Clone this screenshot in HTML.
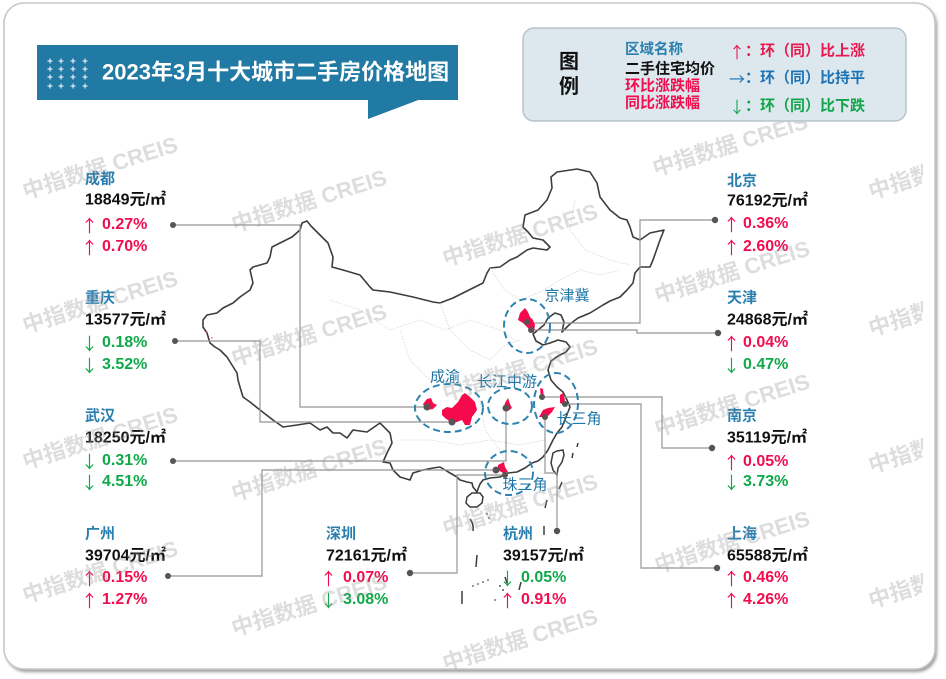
<!DOCTYPE html>
<html><head><meta charset="utf-8"><style>
html,body{margin:0;padding:0;background:#fff;}
body{width:946px;height:679px;overflow:hidden;}
svg{display:block;}
text{font-family:"Liberation Sans","Noto Sans CJK SC",sans-serif;}
.nm{font-size:15px;font-weight:bold;fill:#2a7fb0;}
.pr{font-size:16px;font-weight:bold;fill:#111;}
.up{font-size:16px;font-weight:bold;fill:#f20d4f;}
.dn{font-size:16px;font-weight:bold;fill:#10a94a;}
.ar{font-family:"Noto Sans CJK SC",sans-serif;font-weight:normal;font-size:17px;}
.rg{font-size:15px;fill:#1f77a8;}
.wm{font-size:22px;font-weight:bold;fill:#999;opacity:0.32;}
</style></head><body>
<svg width="946" height="679" viewBox="0 0 946 679" xmlns="http://www.w3.org/2000/svg">
<defs>
<filter id="bl" x="-5%" y="-5%" width="110%" height="110%"><feGaussianBlur stdDeviation="1.5"/></filter>
<clipPath id="cl"><rect x="6" y="5" width="917" height="664"/></clipPath>
</defs>
<!-- frame -->
<rect x="6" y="5" width="931" height="667" rx="20" fill="#9a9a9a" filter="url(#bl)"/>
<rect x="4" y="3" width="931" height="666" rx="20" fill="#fff" stroke="#c8c8c8" stroke-width="1.6"/>

<!-- map outline -->
<path fill="#fff" stroke="#3d3d3d" stroke-width="1.6" stroke-linejoin="round" d="M203,327 L203,320 L207,315 L217,313 L223,308 L233,303 L240,297 L250,290 L253,283 L250,270 L253,267 L267,263 L270,257 L272,247 L280,243 L292,237 L300,230 L302,223 L307,221 L311,226 L318,233 L323,238 L328,243 L333,257 L332,267 L343,270 L360,275 L370,287 L373,290 L390,292 L413,297 L433,302 L440,303 L453,298 L473,288 L483,283 L487,273 L490,268 L500,267 L510,260 L517,257 L527,250 L533,248 L547,250 L550,247 L543,240 L533,238 L528,232 L523,227 L525,215 L538,210 L547,200 L552,188 L551,177 L557,172 L577,169 L590,172 L597,183 L600,197 L610,210 L620,218 L627,220 L630,227 L633,237 L640,240 L650,233 L664,230 L660,240 L653,260 L650,267 L640,267 L635,273 L633,283 L627,290 L620,297 L610,301 L603,305 L590,313 L578,318 L570,324 L562,332 L564,322 L561,315 L555,313 L548,318 L544,325 L538,330 L533,334 L536,341 L543,345 L550,343 L558,340 L566,342 L570,347 L566,352 L558,356 L551,361 L548,370 L551,380 L557,387 L563,392 L567,400 L570,407 L566,417 L562,427 L557,433 L553,440 L548,450 L543,457 L538,461 L532,463 L525,468 L517,472 L508,473 L500,477 L490,478 L483,480 L480,484 L478,489 L477,492 L473,487 L472,483 L467,482 L460,480 L457,477 L450,473 L445,470 L440,467 L433,468 L423,470 L413,473 L410,480 L400,477 L393,470 L390,463 L383,462 L387,453 L392,443 L390,433 L380,423 L367,432 L353,430 L347,438 L340,433 L333,433 L327,427 L320,430 L310,423 L297,425 L283,427 L273,420 L260,410 L250,402 L243,397 L240,387 L238,380 L237,373 L232,365 L227,357 L220,350 L215,347 L210,343 L207,333 Z"/>
<!-- faint province lines -->
<g fill="none" stroke="#d4d4d4" stroke-width="0.8" stroke-dasharray="1.5 1.5">
<path d="M330,300 L360,310 L390,330 L420,320 L445,330 L470,320 L500,330 L515,340"/>
<path d="M400,330 L410,360 L430,380 L470,385 L500,380 L530,370 L545,360"/>
<path d="M440,303 L450,330 L470,350 L490,360 L505,345 L520,340"/>
<path d="M490,268 L505,290 L520,300 L540,292 L560,280 L580,270 L600,275 L620,270"/>
<path d="M575,200 L570,230 L585,250 L610,260 L630,265"/>
<path d="M400,440 L430,440 L460,445 L490,440 L520,445 L545,440"/>
<path d="M480,400 L485,430 L500,450 L505,460"/>
</g>
<!-- Hainan, Taiwan -->
<path fill="#fff" stroke="#3d3d3d" stroke-width="1.5" d="M467,497 L472,493 L480,493 L483,497 L482,503 L477,507 L470,507 L466,503 Z"/>
<path fill="#fff" stroke="#3d3d3d" stroke-width="1.5" d="M553,453 L557,451 L563,450 L564,455 L562,462 L558,468 L557,475 L553,470 L551,463 Z"/>
<g stroke="#3d3d3d" stroke-width="1.5" fill="none">
<path d="M573,453 L572,458"/><path d="M578,443 L577,447"/>
<path d="M562,482 L559,489"/><path d="M547,500 L545,508"/>
<path d="M544,526 L544,535"/><path d="M470,519 Q474,524 473,531"/>
<path d="M477,555 L476,567"/><path d="M462,591 L462,604"/>
<path d="M521,582 L519,590"/><path d="M505,577 L507,583"/>
</g>
<g fill="#555">
<circle cx="473" cy="586" r="0.9"/><circle cx="478" cy="584" r="0.9"/><circle cx="483" cy="582" r="0.9"/><circle cx="488" cy="580" r="0.9"/>
<circle cx="487" cy="514" r="0.9"/><circle cx="489" cy="518" r="0.9"/><circle cx="495" cy="600" r="0.9"/>
<circle cx="500" cy="586" r="1"/><circle cx="503" cy="590" r="1"/>
</g>
<g fill="#ff6b6b"><circle cx="207" cy="332" r="0.9"/><circle cx="212" cy="338" r="0.9"/></g>

<!-- leader lines -->
<g fill="none" stroke="#959595" stroke-width="1.2">
<polyline points="173,225 300,225 300,407 427,407"/>
<polyline points="175,341 260,341 260,422 452,422"/>
<polyline points="173,461 506,461 506,408"/>
<polyline points="168,576 262,576 262,470 496,470"/>
<polyline points="410,573 457,573 457,475 505,475"/>
<polyline points="557,531 557,473 545,473 545,417"/>
<polyline points="715,220 640,220 640,323 527,323"/>
<polyline points="718,333 637,333 637,330 531,330"/>
<polyline points="712,448 662,448 662,397 542,397"/>
<polyline points="717,568 641,568 641,404 565,404"/>
</g>

<!-- red regions -->
<g fill="#f50a4c">
<path d="M520,313 L525,308 L528,312 L530,317 L533,320 L535,325 L534,332 L532,333 L528,328 L523,323 L518,320 Z"/>
<path d="M423,404 L427,399 L431,398 L433,403 L437,405 L433,409 L426,410 Z"/>
<path d="M442,410 L447,407 L452,408 L458,402 L462,395 L465,393 L470,397 L475,402 L477,410 L472,417 L470,425 L465,425 L462,420 L457,422 L452,423 L445,418 L442,415 Z"/>
<path d="M503,410 L505,403 L508,398 L510,404 L512,408 L508,411 Z"/>
<path d="M539,417 L543,410 L548,408 L555,407 L552,412 L547,417 Z"/>
<path d="M540,388 L543,389 L544,398 L541,398 Z"/>
<path d="M560,395 L563,393 L565,400 L564,405 L560,403 Z"/>
<path d="M498,465 L504,462 L505,467 L508,472 L503,473 L498,470 Z"/>
</g>

<!-- circles -->
<g fill="none" stroke="#2e83b0" stroke-width="2" stroke-dasharray="7 4">
<ellipse cx="527" cy="326" rx="23" ry="27"/>
<ellipse cx="449" cy="408" rx="34" ry="24"/>
<ellipse cx="510" cy="406" rx="22" ry="18"/>
<ellipse cx="556" cy="403" rx="22" ry="30"/>
<ellipse cx="509" cy="473" rx="24" ry="22"/>
</g>

<!-- dots -->
<g fill="#555">
<circle cx="173" cy="225" r="3"/><circle cx="175" cy="341" r="3"/><circle cx="173" cy="461" r="3"/>
<circle cx="168" cy="576" r="3"/><circle cx="410" cy="573" r="3.2"/><circle cx="557" cy="531" r="3.2"/>
<circle cx="715" cy="220" r="3.2"/><circle cx="718" cy="333" r="3.2"/><circle cx="712" cy="448" r="3.2"/><circle cx="717" cy="568" r="3.2"/>
<circle cx="427" cy="407" r="3.5"/><circle cx="452" cy="422" r="3.5"/><circle cx="506" cy="408" r="3.5"/>
<circle cx="527" cy="322" r="3"/><circle cx="531" cy="330" r="3"/>
<circle cx="542" cy="397" r="3"/><circle cx="565" cy="404" r="3"/><circle cx="545" cy="417" r="3"/>
<circle cx="496" cy="470" r="3.5"/><circle cx="505" cy="475" r="3"/>
</g>

<!-- region labels -->
<g text-anchor="middle" dominant-baseline="central">
<text class="rg" x="567" y="296">京津冀</text>
<text class="rg" x="445" y="377">成渝</text>
<text class="rg" x="507" y="382">长江中游</text>
<text class="rg" x="579" y="419">长三角</text>
<text class="rg" x="525" y="485">珠三角</text>
</g>

<!-- city blocks -->
<g dominant-baseline="central">
<text class="nm" x="85" y="179">成都</text>
<text class="pr" x="85" y="200">18849元/㎡</text>
<text class="up" x="81" y="224"><tspan class="ar">↑</tspan><tspan x="102">0.27%</tspan></text>
<text class="up" x="81" y="246"><tspan class="ar">↑</tspan><tspan x="102">0.70%</tspan></text>

<text class="nm" x="85" y="298">重庆</text>
<text class="pr" x="85" y="320">13577元/㎡</text>
<text class="dn" x="81" y="342"><tspan class="ar">↓</tspan><tspan x="102">0.18%</tspan></text>
<text class="dn" x="81" y="364"><tspan class="ar">↓</tspan><tspan x="102">3.52%</tspan></text>

<text class="nm" x="85" y="416">武汉</text>
<text class="pr" x="85" y="438">18250元/㎡</text>
<text class="dn" x="81" y="460"><tspan class="ar">↓</tspan><tspan x="102">0.31%</tspan></text>
<text class="dn" x="81" y="481"><tspan class="ar">↓</tspan><tspan x="102">4.51%</tspan></text>

<text class="nm" x="85" y="534">广州</text>
<text class="pr" x="85" y="556">39704元/㎡</text>
<text class="up" x="81" y="577"><tspan class="ar">↑</tspan><tspan x="102">0.15%</tspan></text>
<text class="up" x="81" y="599"><tspan class="ar">↑</tspan><tspan x="102">1.27%</tspan></text>

<text class="nm" x="326" y="534">深圳</text>
<text class="pr" x="326" y="556">72161元/㎡</text>
<text class="up" x="320" y="577"><tspan class="ar">↑</tspan><tspan x="343">0.07%</tspan></text>
<text class="dn" x="320" y="599"><tspan class="ar">↓</tspan><tspan x="343">3.08%</tspan></text>

<text class="nm" x="503" y="534">杭州</text>
<text class="pr" x="503" y="556">39157元/㎡</text>
<text class="dn" x="499" y="577"><tspan class="ar">↓</tspan><tspan x="521">0.05%</tspan></text>
<text class="up" x="499" y="599"><tspan class="ar">↑</tspan><tspan x="521">0.91%</tspan></text>

<text class="nm" x="727" y="181">北京</text>
<text class="pr" x="727" y="201">76192元/㎡</text>
<text class="up" x="723" y="223"><tspan class="ar">↑</tspan><tspan x="743">0.36%</tspan></text>
<text class="up" x="723" y="246"><tspan class="ar">↑</tspan><tspan x="743">2.60%</tspan></text>

<text class="nm" x="727" y="298">天津</text>
<text class="pr" x="727" y="320">24868元/㎡</text>
<text class="up" x="723" y="342"><tspan class="ar">↑</tspan><tspan x="743">0.04%</tspan></text>
<text class="dn" x="723" y="364"><tspan class="ar">↓</tspan><tspan x="743">0.47%</tspan></text>

<text class="nm" x="727" y="416">南京</text>
<text class="pr" x="727" y="438">35119元/㎡</text>
<text class="up" x="723" y="461"><tspan class="ar">↑</tspan><tspan x="743">0.05%</tspan></text>
<text class="dn" x="723" y="481"><tspan class="ar">↓</tspan><tspan x="743">3.73%</tspan></text>

<text class="nm" x="727" y="534">上海</text>
<text class="pr" x="727" y="556">65588元/㎡</text>
<text class="up" x="723" y="577"><tspan class="ar">↑</tspan><tspan x="743">0.46%</tspan></text>
<text class="up" x="723" y="599"><tspan class="ar">↑</tspan><tspan x="743">4.26%</tspan></text>
</g>

<!-- watermarks -->
<g clip-path="url(#cl)" text-anchor="middle" dominant-baseline="central">
<text class="wm" transform="translate(100,168) rotate(-17.5)">中指数据 CREIS</text>
<text class="wm" transform="translate(100,302) rotate(-17.5)">中指数据 CREIS</text>
<text class="wm" transform="translate(100,438) rotate(-17.5)">中指数据 CREIS</text>
<text class="wm" transform="translate(100,572) rotate(-17.5)">中指数据 CREIS</text>
<text class="wm" transform="translate(309,201) rotate(-17.5)">中指数据 CREIS</text>
<text class="wm" transform="translate(309,335) rotate(-17.5)">中指数据 CREIS</text>
<text class="wm" transform="translate(309,470) rotate(-17.5)">中指数据 CREIS</text>
<text class="wm" transform="translate(309,605) rotate(-17.5)">中指数据 CREIS</text>
<text class="wm" transform="translate(520,235) rotate(-17.5)">中指数据 CREIS</text>
<text class="wm" transform="translate(520,370) rotate(-17.5)">中指数据 CREIS</text>
<text class="wm" transform="translate(520,505) rotate(-17.5)">中指数据 CREIS</text>
<text class="wm" transform="translate(520,640) rotate(-17.5)">中指数据 CREIS</text>
<text class="wm" transform="translate(730,145) rotate(-17.5)">中指数据 CREIS</text>
<text class="wm" transform="translate(732,272) rotate(-17.5)">中指数据 CREIS</text>
<text class="wm" transform="translate(732,405) rotate(-17.5)">中指数据 CREIS</text>
<text class="wm" transform="translate(732,542) rotate(-17.5)">中指数据 CREIS</text>
<text class="wm" transform="translate(946,168) rotate(-17.5)">中指数据 CREIS</text>
<text class="wm" transform="translate(946,305) rotate(-17.5)">中指数据 CREIS</text>
<text class="wm" transform="translate(946,442) rotate(-17.5)">中指数据 CREIS</text>
<text class="wm" transform="translate(946,577) rotate(-17.5)">中指数据 CREIS</text>
</g>

<!-- title banner -->
<rect x="37" y="45" width="421" height="55" fill="#217aa4"/>
<polygon points="368,99 368,119 421,99" fill="#217aa4"/>
<g stroke="#fff" stroke-width="1">
<path d="M47.5,61 h5 M50,58.5 v5 M58.5,61 h5 M61,58.5 v5 M70.5,61 h5 M73,58.5 v5 M82.5,61 h5 M85,58.5 v5"/>
<path d="M47.5,69 h5 M50,66.5 v5 M58.5,69 h5 M61,66.5 v5 M70.5,69 h5 M73,66.5 v5 M82.5,69 h5 M85,66.5 v5"/>
<path d="M47.5,77 h5 M50,74.5 v5 M58.5,77 h5 M61,74.5 v5 M70.5,77 h5 M73,74.5 v5 M82.5,77 h5 M85,74.5 v5"/>
<path d="M47.5,86 h5 M50,83.5 v5 M58.5,86 h5 M61,83.5 v5 M70.5,86 h5 M73,83.5 v5 M82.5,86 h5 M85,83.5 v5"/>
</g>
<text x="102" y="72" dominant-baseline="central" style="font-size:22px;font-weight:bold;fill:#fff;">2023年3月十大城市二手房价格地图</text>

<!-- legend -->
<rect x="523" y="28" width="383" height="93" rx="11" fill="#dde8ee" stroke="#b8c3c9" stroke-width="1.5"/>
<g dominant-baseline="central">
<text x="559" y="62" style="font-size:20px;font-weight:bold;fill:#111;">图</text>
<text x="559" y="87" style="font-size:20px;font-weight:bold;fill:#111;">例</text>
<text x="625" y="50" style="font-size:14.5px;font-weight:bold;fill:#2a7fad;">区域名称</text>
<text x="625" y="69" style="font-size:15px;font-weight:bold;fill:#111;">二手住宅均价</text>
<text x="625" y="86" style="font-size:15px;font-weight:bold;fill:#f20d4f;">环比涨跌幅</text>
<text x="625" y="103" style="font-size:15px;font-weight:bold;fill:#f20d4f;">同比涨跌幅</text>
<text x="729" y="51" style="font-size:15px;font-weight:bold;fill:#e8184f;"><tspan class="ar" style="font-size:16px">↑</tspan>：环（同）比上涨</text>
<text x="729" y="78" style="font-size:15px;font-weight:bold;fill:#1c72b5;"><tspan class="ar" style="font-size:16px">→</tspan>：环（同）比持平</text>
<text x="729" y="106" style="font-size:15px;font-weight:bold;fill:#10a54a;"><tspan class="ar" style="font-size:16px">↓</tspan>：环（同）比下跌</text>
</g>
</svg>
</body></html>
